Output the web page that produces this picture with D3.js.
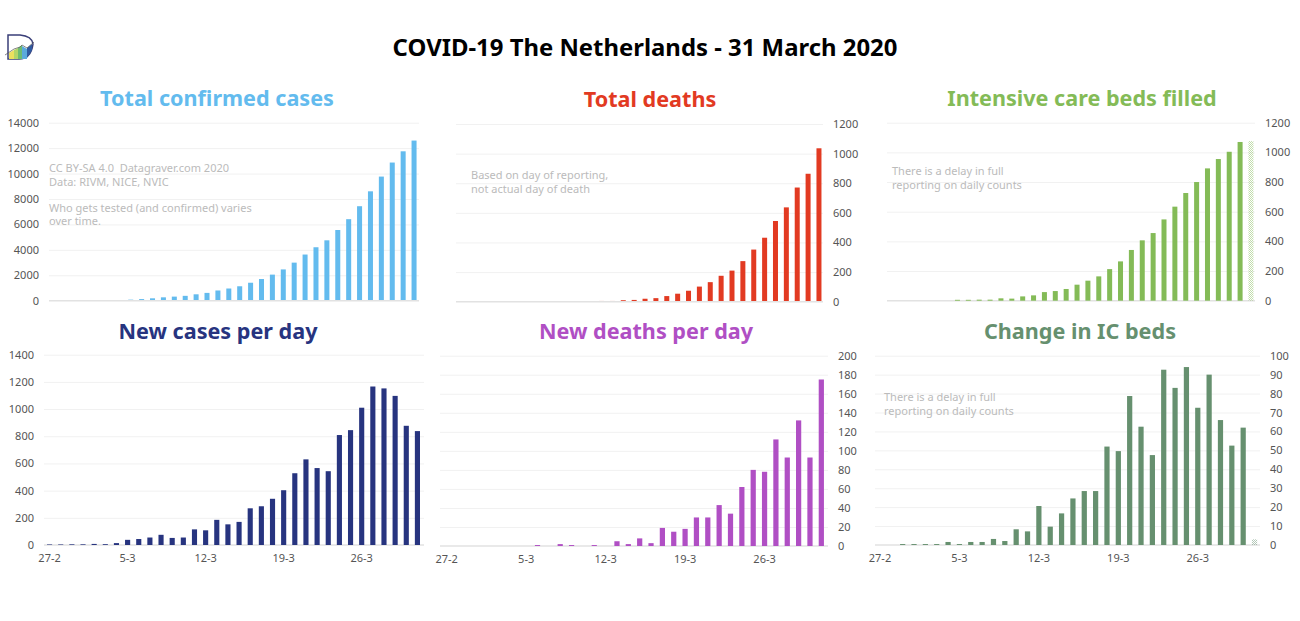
<!DOCTYPE html>
<html>
<head>
<meta charset="utf-8">
<script src="https://cdnjs.cloudflare.com/ajax/libs/d3/7.8.5/d3.min.js"></script>
<style>
    body { margin: 0; background: #fff; }
    svg { display: block; }
    text { font-family: "Noto Sans", sans-serif; }
</style>
</head>
<body>
<div id="chart"></div>
<script>
// One label per day, 27 Feb - 31 March 2020
const days = ["27-2","28-2","29-2","1-3","2-3","3-3","4-3","5-3","6-3","7-3","8-3","9-3","10-3","11-3","12-3","13-3","14-3","15-3","16-3","17-3","18-3","19-3","20-3","21-3","22-3","23-3","24-3","25-3","26-3","27-3","28-3","29-3","30-3","31-3"];
const weekTicks = ["27-2","5-3","12-3","19-3","26-3"];

const totalCases = [1,2,6,10,18,24,38,82,128,188,265,321,382,503,614,804,959,1135,1413,1705,2051,2460,2994,3631,4204,4749,5560,6412,7431,8603,9762,10866,11750,12595];
const totalDeaths = [0,0,0,0,0,0,0,0,1,1,3,4,4,5,5,10,12,20,24,38,54,74,102,132,175,210,274,352,432,545,637,771,864,1036];
const icBeds = [0,0,0,0,0,0,6,6,7,7,16,14,29,36,58,65,79,108,135,164,213,265,342,407,456,548,634,726,800,892,955,1004,1070,1076];
const newCases = [4,4,5,5,8,6,14,38,44,55,75,52,55,115,108,185,152,170,270,285,340,403,528,630,566,543,809,845,1010,1166,1152,1097,877,838];
const newDeaths = [0,0,0,0,0,0,0,0,1,0,2,1,0,1,0,5,2,8,3,19,15,18,30,30,43,34,62,80,78,112,93,132,93,175];
const icChange = [0,0,0.5,0.5,0.5,0.5,1.6,0.5,1.6,1.6,3.2,2.1,8.3,7.2,20.6,9.7,16.7,24.6,28.5,28.5,52,49.6,78.7,62.5,47.5,92.6,83,94,72.5,90,66,52.5,62,3];

const width = 1300, height = 621;

const panels = [
    { title: "Total confirmed cases", color: "#63bbee", values: totalCases, max: 14000, step: 2000, side: "left", baselineOnTop: true,
      gridX: [49, 419], barX: [49, 419.5], y: [300.7, 122.7], titleX: 217, titleY: 98,
      notes: [["CC BY-SA 4.0  Datagraver.com 2020", 49, 172], ["Data: RIVM, NICE, NVIC", 49, 186], ["Who gets tested (and confirmed) varies", 49, 212], ["over time.", 49, 225]] },
    { title: "Total deaths", color: "#e23a22", values: totalDeaths, max: 1200, step: 200, side: "right", baselineOnTop: true,
      gridX: [456, 823], barX: [454.8, 824.4], y: [301.7, 124], titleX: 650, titleY: 99,
      notes: [["Based on day of reporting,", 471, 179], ["not actual day of death", 471, 193]] },
    { title: "Intensive care beds filled", color: "#84bb57", values: icBeds, max: 1200, step: 200, side: "right", hatchLast: true,
      gridX: [887, 1255], barX: [886.8, 1256.4], y: [300.7, 122.7], titleX: 1082, titleY: 98,
      notes: [["There is a delay in full", 892, 175], ["reporting on daily counts", 892, 189]] },
    { title: "New cases per day", color: "#27347f", values: newCases, max: 1400, step: 200, side: "left", dates: true,
      gridX: [44, 424], barX: [44, 423], y: [545, 354.7], titleX: 218, titleY: 331, notes: [] },
    { title: "New deaths per day", color: "#b04fc4", values: newDeaths, max: 200, step: 20, side: "right", dates: true,
      gridX: [440, 828], barX: [441, 827], y: [546, 355.7], titleX: 646, titleY: 331, notes: [] },
    { title: "Change in IC beds", color: "#66906f", values: icChange, max: 100, step: 10, side: "right", dates: true, hatchLast: true,
      gridX: [875, 1260], barX: [874.3, 1260.2], y: [545, 355.7], titleX: 1080, titleY: 331,
      notes: [["There is a delay in full", 884, 401], ["reporting on daily counts", 884, 415]] }
];

const svg = d3.select("#chart")
    .append("svg")
    .attr("width", width)
    .attr("height", height);

const defs = svg.append("defs");

// Main title
svg.append("text")
    .attr("x", 645)
    .attr("y", 48)
    .attr("dy", "0.35em")
    .attr("text-anchor", "middle")
    .attr("font-size", 23.9)
    .attr("font-weight", 700)
    .attr("fill", "#000")
    .text("COVID-19 The Netherlands - 31 March 2020");

// Small logo, top left
const logo = svg.append("g");
logo.append("path").attr("d", "M8 35 H20 Q32 36 33 44 Q31 59 19 59 H8 Z").attr("fill", "#fff").attr("stroke", "#3a3f78").attr("stroke-width", 1.5);
logo.append("path").attr("d", "M9 59 V53 L14 50 V59 Z").attr("fill", "#ece05e");
logo.append("path").attr("d", "M14 59 V50 L18 48 V59 Z").attr("fill", "#b3d568");
logo.append("path").attr("d", "M18 59 V48 L22 45 V59 Z").attr("fill", "#6dbb72");
logo.append("path").attr("d", "M22 59 V46 L27 49 V59 Z").attr("fill", "#5aa9dc");
logo.append("path").attr("d", "M27 58 V48 L32 44 V50 Z").attr("fill", "#2f5aa0");
logo.append("path").attr("d", "M5 55 L14 49 L20 47 L22 45 L27 48 L34 42").attr("fill", "none").attr("stroke", "#555").attr("stroke-width", 0.7);

panels.forEach((panel, i) => drawPanel(panel, i));

function drawPanel(panel, index) {
    const xScale = d3.scaleBand()
        .domain(days)
        .range(panel.barX)
        .paddingInner(0.54)
        .paddingOuter(0.27);

    const yScale = d3.scaleLinear()
        .domain([0, panel.max])
        .range(panel.y);

    const yTicks = d3.range(0, panel.max + 1, panel.step);

    // Gridlines
    const grid = svg.append("g")
        .attr("transform", "translate(" + panel.gridX[0] + ",0)")
        .call(d3.axisRight(yScale).tickValues(yTicks.slice(1)).tickSize(panel.gridX[1] - panel.gridX[0]).tickFormat(""));
    grid.select(".domain").remove();
    grid.selectAll("line").attr("stroke", "#f1f1f1");

    function drawBaseline() {
        svg.append("line")
            .attr("x1", panel.gridX[0])
            .attr("x2", panel.gridX[1])
            .attr("y1", yScale(0))
            .attr("y2", yScale(0))
            .attr("stroke", "#e2e2e2")
            .attr("stroke-width", 1.5);
    }

    if (!panel.baselineOnTop) drawBaseline();

    // Faint dotted fill for the last, still incomplete day
    const patternId = "hatch" + index;
    if (panel.hatchLast) {
        const pattern = defs.append("pattern")
            .attr("id", patternId)
            .attr("width", 2)
            .attr("height", 2)
            .attr("patternUnits", "userSpaceOnUse");
        pattern.append("rect").attr("width", 1).attr("height", 1).attr("fill", panel.color).attr("opacity", 0.5);
        pattern.append("rect").attr("x", 1).attr("y", 1).attr("width", 1).attr("height", 1).attr("fill", panel.color).attr("opacity", 0.5);
    }

    // Bars
    svg.selectAll(".bar" + index)
        .data(panel.values)
        .enter()
        .append("rect")
        .attr("class", "bar" + index)
        .attr("x", (d, i) => xScale(days[i]))
        .attr("y", d => yScale(d))
        .attr("width", xScale.bandwidth())
        .attr("height", d => yScale(0) - yScale(d))
        .attr("fill", (d, i) => panel.hatchLast && i === days.length - 1 ? "url(#" + patternId + ")" : panel.color);

    if (panel.baselineOnTop) drawBaseline();

    // Value axis
    const isLeft = panel.side === "left";
    const axisFn = isLeft ? d3.axisLeft(yScale) : d3.axisRight(yScale);
    const yAxis = svg.append("g")
        .attr("transform", "translate(" + (isLeft ? panel.gridX[0] : panel.gridX[1]) + ",0)")
        .call(axisFn.tickValues(yTicks).tickSize(0).tickPadding(10).tickFormat(d3.format("d")));
    yAxis.select(".domain").remove();
    yAxis.selectAll("text")
        .attr("fill", "#555")
        .style("font-size", "11px");

    // Date axis, bottom row only
    if (panel.dates) {
        const xAxis = svg.append("g")
            .attr("transform", "translate(0," + yScale(0) + ")")
            .call(d3.axisBottom(xScale).tickValues(weekTicks).tickSize(0).tickPadding(9));
        xAxis.select(".domain").remove();
        xAxis.selectAll("text")
            .attr("fill", "#555")
            .style("font-size", "11px");
    }

    // Panel title
    svg.append("text")
        .attr("x", panel.titleX)
        .attr("y", panel.titleY)
        .attr("dy", "0.35em")
        .attr("text-anchor", "middle")
        .attr("font-size", 21.6)
        .attr("font-weight", 700)
        .attr("fill", panel.color)
        .text(panel.title);

    // Grey notes
    panel.notes.forEach(note => {
        svg.append("text")
            .attr("x", note[1])
            .attr("y", note[2])
            .attr("xml:space", "preserve")
            .attr("font-size", 11)
            .attr("fill", "#bbb")
            .text(note[0]);
    });
}
</script>
</body>
</html>
